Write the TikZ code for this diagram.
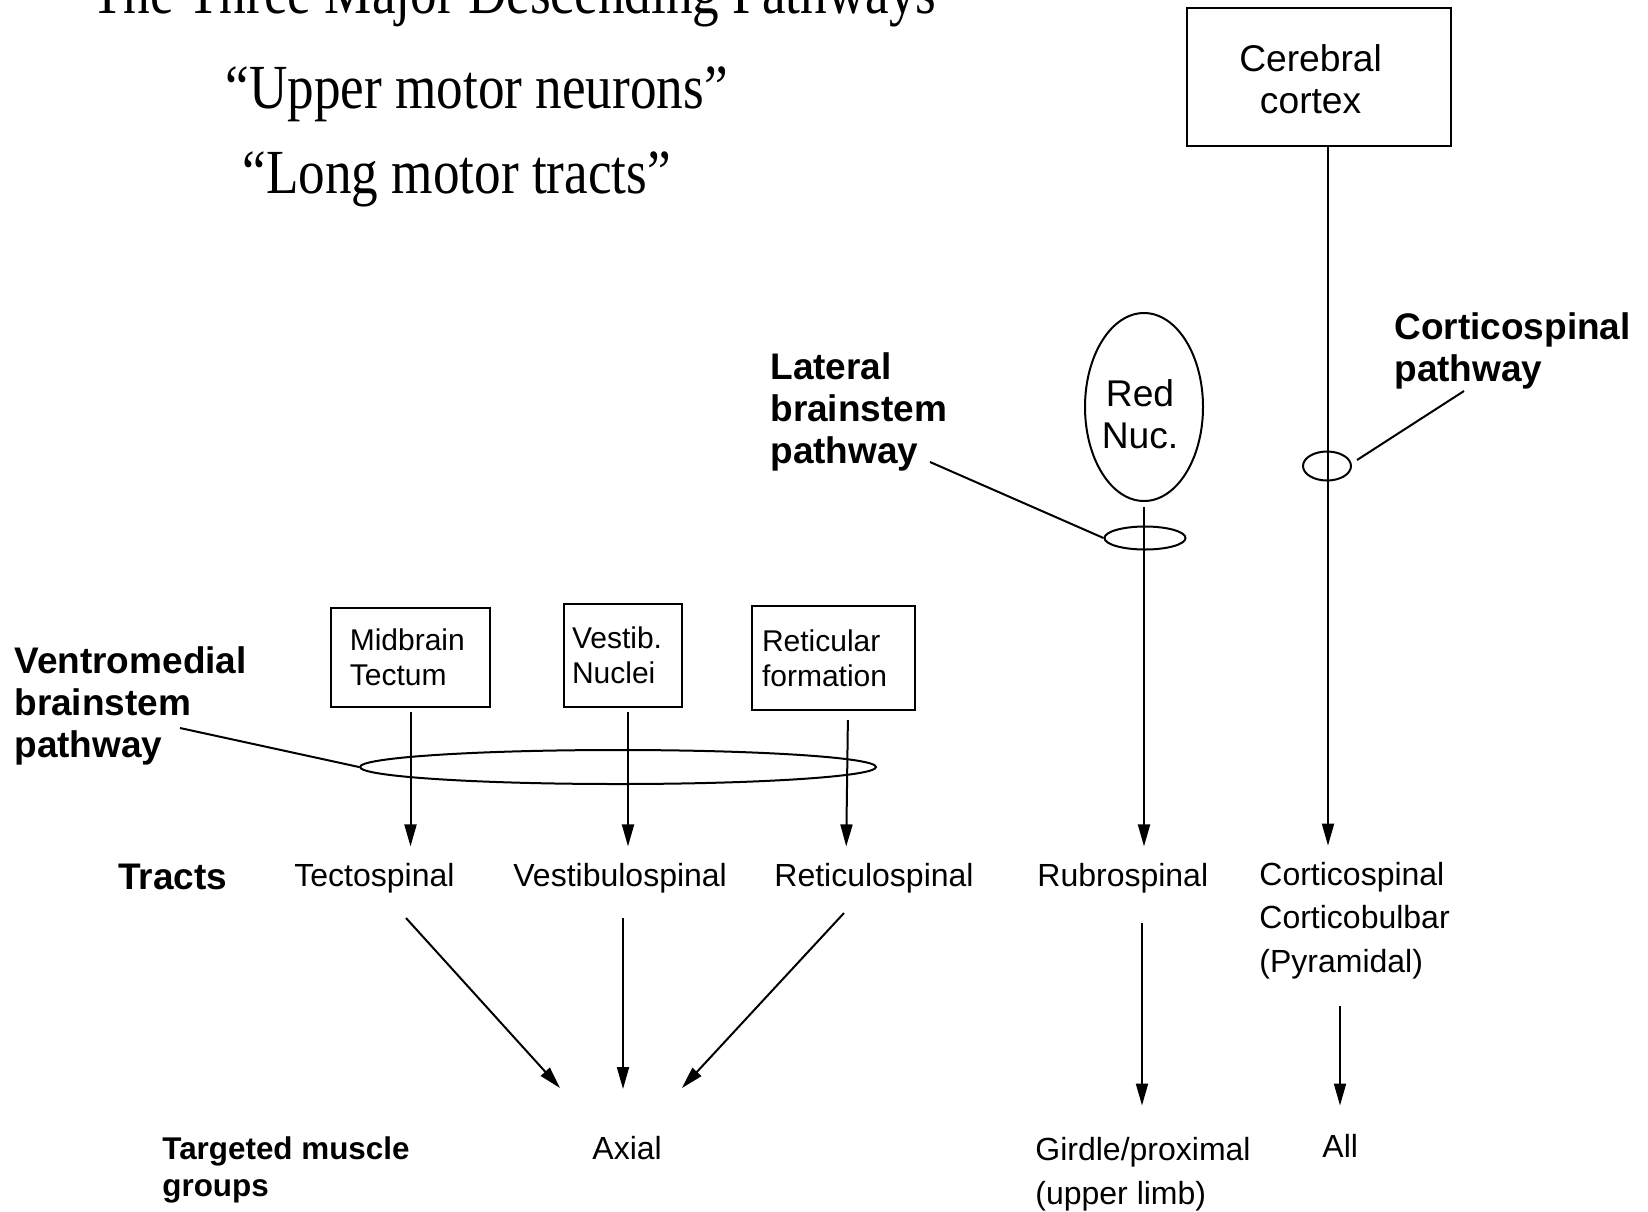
\documentclass[tikz,border=0pt]{standalone}
\usepackage{fontspec}
\setmainfont{Liberation Sans}
\newfontfamily\titlefont{Liberation Serif}
\usetikzlibrary{arrows.meta,calc,shapes.geometric}

\begin{document}
\begin{tikzpicture}[
  x=.5pt,y=-.5pt,>={Triangle[length=11pt,width=6pt]},
  every node/.style={inner sep=0pt},
  heading/.style={font=\titlefont\fontsize{26.6}{30}\selectfont,anchor=base west},
  pathlabel/.style={font=\bfseries\fontsize{18.5}{20.85}\selectfont,align=left,anchor=base west},
  tractlabel/.style={font=\fontsize{16}{21.7}\selectfont,align=left,anchor=base west},
  nucbox/.style={draw,line width=1pt,align=left,minimum height=49.5pt,
    font=\fontsize{15}{17.5}\selectfont},
  cortexbox/.style={draw,line width=1pt,minimum width=132pt,minimum height=69pt},
  nucleus/.style={draw,ellipse,line width=1pt},
  bigtext/.style={align=center,font=\fontsize{18.6}{21.2}\selectfont},
  bundle/.style={draw,ellipse,line width=1pt},
  leader/.style={line width=1pt},
  fibre/.style={->,line width=1pt,shorten <=2pt,shorten >=8pt},
  target/.style={->,line width=1pt}
]
\useasboundingbox (0,0) rectangle (1648,1211);

% Slide heading (first line runs off the top edge)
\node[heading] (title) at (91,13) {\scalebox{1}[1.18]{The Three Major Descending Pathways}};
\node[heading] (umn) at (225,108) {\scalebox{1}[1.18]{“Upper motor neurons”}};
\node[heading] (lmt) at (242,193) {\scalebox{1}[1.18]{“Long motor tracts”}};

% Origins of the pathways
\node[cortexbox,label={[bigtext,xshift=-4.2pt,yshift=-1pt]center:{Cerebral\\cortex}}] (cortex) at (1319,77) {};
\node[nucleus,minimum width=59pt,minimum height=94pt,
  label={[bigtext,xshift=-2pt,yshift=-3.7pt]center:{Red\\Nuc.}}] (rednuc) at (1144,407) {};
\node[nucbox,text width=60.7pt,inner xsep=9.4pt] (tectum) at (410.5,657.5) {Midbrain\\Tectum};
\node[nucbox,text width=51pt,inner xsep=4pt,minimum height=51.5pt] (vestnuc) at (623,655.7) {Vestib.\\Nuclei};
\node[nucbox,text width=71.5pt,inner xsep=5pt,minimum height=52pt] (retform) at (833.5,658) {Reticular\\formation};

% Fibre bundles and their names (base = last line)
\node[bundle,minimum width=24pt,minimum height=14.5pt] (cbund) at (1327,466) {};
\node[bundle,minimum width=40.5pt,minimum height=11.5pt] (rbund) at (1145,538) {};
\node[bundle,minimum width=258pt,minimum height=17pt] (vbund) at (618,767) {};
\node[pathlabel] (ventro) at (14,757) {Ventromedial\\brainstem\\pathway};
\node[pathlabel] (lateral) at (770,463) {Lateral\\brainstem\\pathway};
\node[pathlabel] (corticopath) at (1394,381) {Corticospinal\\pathway};
\draw[leader] ($(ventro.base west)+(166,-29)$) -- (vbund.west);
\draw[leader] ($(lateral.base west)+(160,-1)$) -- (rbund.west);
\draw[leader] ($(corticopath.base west)+(70,10)$) -- ($(cbund.east)+(5,-6)$);

% Tracts
\node[pathlabel] (tracts) at (118,889) {Tracts};
\node[tractlabel] (tecto) at (294,886) {Tectospinal};
\node[tractlabel] (vestsp) at (513,886) {Vestibulospinal};
\node[tractlabel] (retsp) at (774,886) {Reticulospinal};
\node[tractlabel] (rubsp) at (1037,886) {Rubrospinal};
\node[tractlabel] (cortsp) at (1259,972) {Corticospinal\\Corticobulbar\\(Pyramidal)};
\draw[fibre] (tectum.south) -- (tectum.south |- tecto.north);
\draw[fibre] ([xshift=2.5pt]vestnuc.south) -- ([xshift=2.5pt]vestnuc.south |- vestsp.north);
\draw[fibre,shorten <=4.5pt] ([xshift=7.25pt]retform.south) -- ([xshift=6.25pt]retform.south |- retsp.north);
\draw[fibre,shorten <=2.5pt] (rednuc.south) -- (rednuc.south |- rubsp.north);
\draw[fibre,shorten <=0pt] ([xshift=4.5pt]cortex.south) -- ([xshift=4.5pt]cortex.south |- cortsp.north);

% Targeted muscle groups
\node[pathlabel,font=\bfseries\fontsize{15.7}{18.35}\selectfont] (targets) at (162,1196) {Targeted muscle\\groups};
\node[tractlabel] (axial) at (592,1159) {Axial};
\node[tractlabel,font=\fontsize{16}{22}\selectfont] (girdle) at (1035,1204) {Girdle/proximal\\(upper limb)};
\node[tractlabel] (allm) at (1322,1157) {All};
\draw[target] ($(tecto.base west)+(112,32)$) -- ($(axial.base west)+(-32,-71)$);
\draw[target] ($(vestsp.base west)+(110,32)$) -- ($(axial.base west)+(31,-70)$);
\draw[target] ($(retsp.base west)+(70,27)$) -- ($(axial.base west)+(90,-71)$);
\draw[target] ($(rubsp.base west)+(105,37)$) -- ($(girdle.base west)+(107,-98.5)$);
\draw[target] ($(cortsp.base west)+(81,34)$) -- ($(allm.base west)+(18,-51.5)$);
\end{tikzpicture}
\end{document}
